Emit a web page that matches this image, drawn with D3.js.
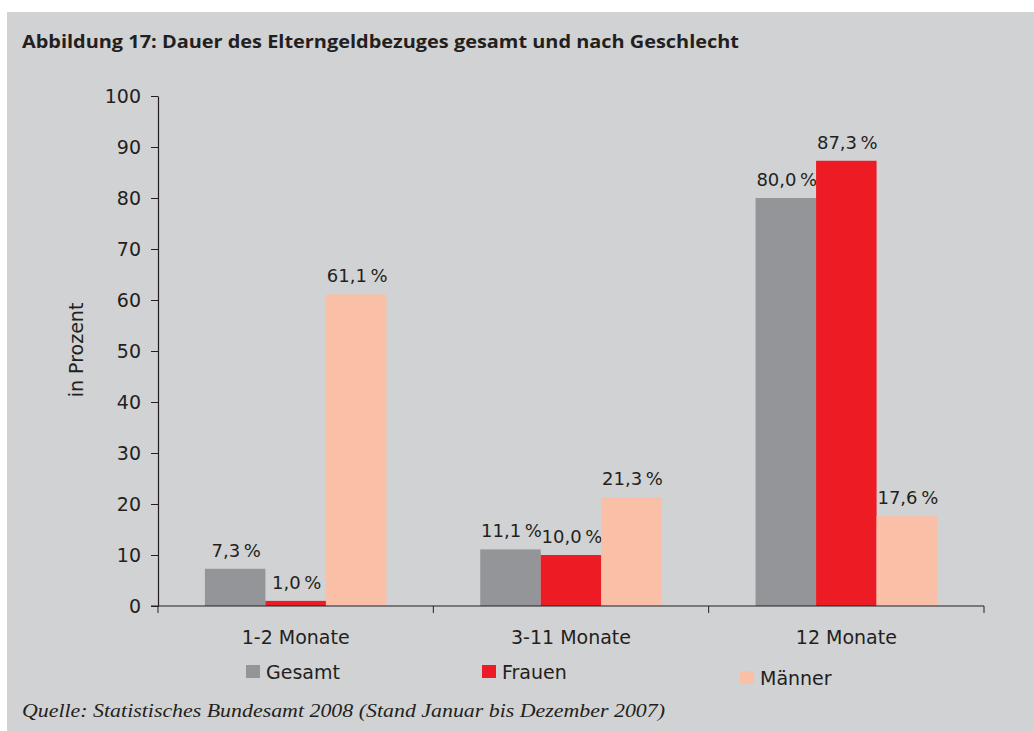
<!DOCTYPE html>
<html><head><meta charset="utf-8">
<script src="https://cdn.jsdelivr.net/npm/d3@7"></script>
<style>body{margin:0;background:#fff;} svg{display:block;}</style>
</head><body>
<script>
const categories = ["1-2 Monate", "3-11 Monate", "12 Monate"];
const seriesNames = ["Gesamt", "Frauen", "Männer"];
const gesamt = [7.3, 11.1, 80.0];
const frauen = [1.0, 10.0, 87.3];
const maenner = [61.1, 21.3, 17.6];
const labelsGesamt = ["7,3\u2009%", "11,1\u2009%", "80,0\u2009%"];
const labelsFrauen = ["1,0\u2009%", "10,0\u2009%", "87,3\u2009%"];
const labelsMaenner = ["61,1\u2009%", "21,3\u2009%", "17,6\u2009%"];
const yTicks = [0, 10, 20, 30, 40, 50, 60, 70, 80, 90, 100];
const colors = ["#939598", "#ed1c24", "#f9bfa7"];

const W = 1034, H = 731;
const ink = "#231f20";
const font = "DejaVu Sans";
const svg = d3.select("body").append("svg").attr("width", W).attr("height", H);
svg.append("rect").attr("x", 7).attr("y", 12).attr("width", W - 7).attr("height", H - 12).attr("fill", "#d1d2d4");

svg.append("text").attr("x", 22).attr("y", 48)
  .attr("font-family", "Open Sans").attr("font-weight", "bold").attr("font-size", 18)
  .attr("fill", ink)
  .attr("textLength", 717).attr("lengthAdjust", "spacingAndGlyphs")
  .text("Abbildung 17: Dauer des Elterngeldbezuges gesamt und nach Geschlecht");

const x0 = 158, x1 = 984, yTop = 96, yBot = 606;
const x = d3.scaleBand().domain(categories).range([x0, x1]).paddingInner(0).paddingOuter(0);
const xs = d3.scaleBand().domain(seriesNames).range([0, x.bandwidth()]).paddingInner(0).paddingOuter(0.775);
const y = d3.scaleLinear().domain([0, 100]).range([yBot, yTop]);

const data = [gesamt, frauen, maenner];
const labels = [labelsGesamt, labelsFrauen, labelsMaenner];

seriesNames.forEach((s, si) => {
  svg.append("g").selectAll("rect").data(categories).join("rect")
    .attr("x", c => x(c) + xs(s))
    .attr("width", xs.bandwidth())
    .attr("y", (c, i) => y(data[si][i]))
    .attr("height", (c, i) => y(0) - y(data[si][i]))
    .attr("fill", colors[si]);
  svg.append("g").selectAll("text").data(categories).join("text")
    .attr("x", c => x(c) + xs(s) + xs.bandwidth() / 2 + 1)
    .attr("y", (c, i) => y(data[si][i]) - 12)
    .attr("text-anchor", "middle")
    .attr("font-family", font).attr("font-size", 18).attr("fill", ink)
    .text((c, i) => labels[si][i]);
});

// y axis
const yAxis = svg.append("g").attr("transform", `translate(${x0},0)`)
  .call(d3.axisLeft(y).tickValues(yTicks).tickSize(7).tickSizeOuter(0).tickPadding(10));
yAxis.select(".domain").attr("stroke", ink).attr("stroke-width", 1.2);
yAxis.selectAll(".tick line").attr("stroke", ink);
yAxis.selectAll(".tick text").attr("font-family", font).attr("font-size", 19).attr("fill", ink);

// x axis
const xAxis = svg.append("g").attr("transform", `translate(0,${yBot})`)
  .call(d3.axisBottom(x).tickValues([]).tickSizeOuter(0));
xAxis.select(".domain").attr("stroke", ink).attr("stroke-width", 1.2).attr("d", `M${x0 - 7},0H${x1}`);
const boundaries = [...categories.map(c => x(c)), x1];
svg.append("g").selectAll("line").data(boundaries).join("line")
  .attr("x1", d => d).attr("x2", d => d).attr("y1", yBot).attr("y2", yBot + 7)
  .attr("stroke", ink).attr("stroke-width", 1);
svg.append("g").selectAll("text").data(categories).join("text")
  .attr("x", c => x(c) + x.bandwidth() / 2).attr("y", 644)
  .attr("text-anchor", "middle").attr("font-family", font).attr("font-size", 19).attr("fill", ink)
  .text(c => c);

// y label
svg.append("text").attr("transform", "translate(83,350) rotate(-90)")
  .attr("text-anchor", "middle").attr("font-family", font).attr("font-size", 19).attr("fill", ink)
  .text("in Prozent");

// legend
const legendPos = [[246, 665, 679], [482, 665, 679], [740, 671, 685]];
seriesNames.forEach((s, i) => {
  const [lx, ly, tb] = legendPos[i];
  svg.append("rect").attr("x", lx).attr("y", ly).attr("width", 14).attr("height", 13).attr("fill", colors[i]);
  svg.append("text").attr("x", lx + 20).attr("y", tb).attr("font-family", font).attr("font-size", 19)
    .attr("fill", ink).text(s);
});

// source
svg.append("text").attr("x", 22).attr("y", 717)
  .attr("font-family", "Liberation Serif").attr("font-style", "italic").attr("font-size", 19).attr("fill", ink)
  .attr("textLength", 643).attr("lengthAdjust", "spacingAndGlyphs")
  .text("Quelle: Statistisches Bundesamt 2008 (Stand Januar bis Dezember 2007)");
</script>
</body></html>
